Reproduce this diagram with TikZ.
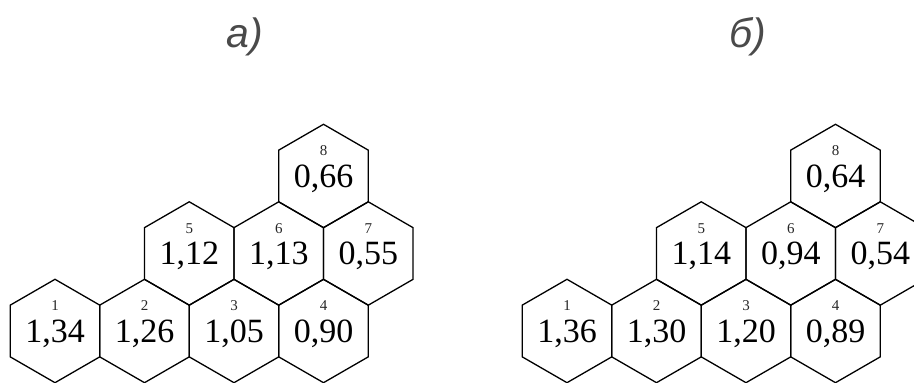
\documentclass[tikz,border=0pt]{standalone}
\usepackage{fontspec}
\setmainfont{Liberation Serif}
\newfontfamily\headfont{Liberation Sans}
\usetikzlibrary{shapes.geometric, positioning}
\definecolor{hexgray}{HTML}{4A4A4A}

\begin{document}
\begin{tikzpicture}[x=1pt, y=1pt,
    cell/.style={regular polygon, regular polygon sides=6, shape border rotate=30,
                 minimum size=103.4pt, inner sep=0pt, text depth=0pt, draw=black,
                 line width=1.3pt, font=\fontsize{34}{34}\selectfont},
    tag/.style={inner sep=0pt, text=black!85, font=\fontsize{15}{15}\selectfont},
    heading/.style={text=hexgray, font=\headfont\itshape\fontsize{41}{41}\selectfont}
  ]
    \useasboundingbox (0,0) rectangle (914,383);
    \clip (0,0) rectangle (914,383);

    % panel a
    \node[heading] (ha) at (245,346) {а)};
    \node[cell] (a1) at (55,52) {1,34};
    \node[cell] (a2) at (144.5,52) {1,26};
    \node[cell] (a3) at (234,52) {1,05};
    \node[cell] (a4) at (323.5,52) {0,90};
    \node[cell] (a5) at (189.25,129.5) {1,12};
    \node[cell] (a6) at (278.75,129.5) {1,13};
    \node[cell] (a7) at (368.25,129.5) {0,55};
    \node[cell] (a8) at (323.5,207) {0,66};

    % panel b
    \node[heading] (hb) at (748,346) {б)};
    \node[cell] (b1) at (567,52) {1,36};
    \node[cell] (b2) at (656.5,52) {1,30};
    \node[cell] (b3) at (746,52) {1,20};
    \node[cell] (b4) at (835.5,52) {0,89};
    \node[cell] (b5) at (701.25,129.5) {1,14};
    \node[cell] (b6) at (790.75,129.5) {0,94};
    \node[cell] (b7) at (880.25,129.5) {0,54};
    \node[cell] (b8) at (835.5,207) {0,64};

    % cell numbers
    \foreach \p in {a,b}
      \foreach \i in {1,...,8}
        \node[tag, above=20pt of \p\i.center] (\p\i n) {\i};
\end{tikzpicture}
\end{document}
